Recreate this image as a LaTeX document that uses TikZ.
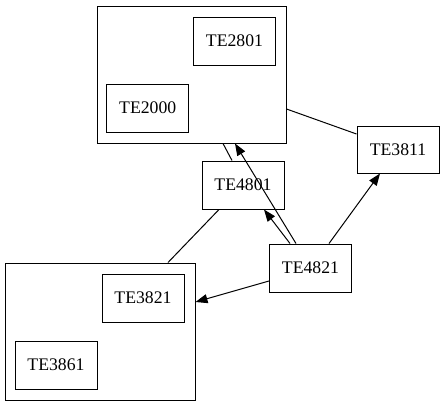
\documentclass[tikz,border=0pt]{standalone}
\usepackage{fontspec}
\setmainfont{Liberation Serif}
\usetikzlibrary{arrows.meta}
\begin{document}
\begin{tikzpicture}[x=1pt,y=-1pt,
  course/.style={draw,line width=1pt,minimum width=82pt,minimum height=48pt,
    inner sep=0pt,font=\fontsize{17.7}{20}\selectfont},
  cluster/.style={draw,line width=1pt,inner sep=0pt},
  link/.style={line width=1pt},
  dep/.style={line width=1pt,-{Triangle[length=12pt,width=9pt]}}]
\useasboundingbox (0,0) rectangle (444,405);
% clusters
\node[cluster,minimum width=189pt,minimum height=137pt] (ctop) at (191.5,74.5) {};
\node[cluster,minimum width=190pt,minimum height=137pt] (cbot) at (100,331.5) {};
% courses
\node[course] (te2801) at (234.5,41) {TE2801};
\node[course] (te2000) at (147.7,108) {TE2000};
\node[course,minimum height=47pt] (te3811) at (398,149.5) {TE3811};
\node[course] (te4801) at (243,185) {TE4801};
\node[course] (te4821) at (310.5,268) {TE4821};
\node[course] (te3821) at (143,298) {TE3821};
\node[course] (te3861) at (56,365) {TE3861};
% plain links
\draw[link] ([xshift=-11pt]te4801.north) -- ([xshift=31.5pt]ctop.south);
\draw[link] ([xshift=-24pt]te4801.south) -- ([xshift=68pt]cbot.north);
\draw[link] ([yshift=-34.5pt]ctop.east) -- ([yshift=15.5pt]te3811.west);
% directed links
\draw[dep] ([xshift=-14.5pt]te4821.north) -- ([xshift=43.5pt]ctop.south);
\draw[dep] ([xshift=-20.5pt]te4821.north) -- ([xshift=21pt]te4801.south);
\draw[dep] ([xshift=18.5pt]te4821.north) -- ([xshift=-18pt]te3811.south);
\draw[dep] ([yshift=-13pt]te4821.west) -- ([yshift=29.5pt]cbot.east);
\end{tikzpicture}
\end{document}
